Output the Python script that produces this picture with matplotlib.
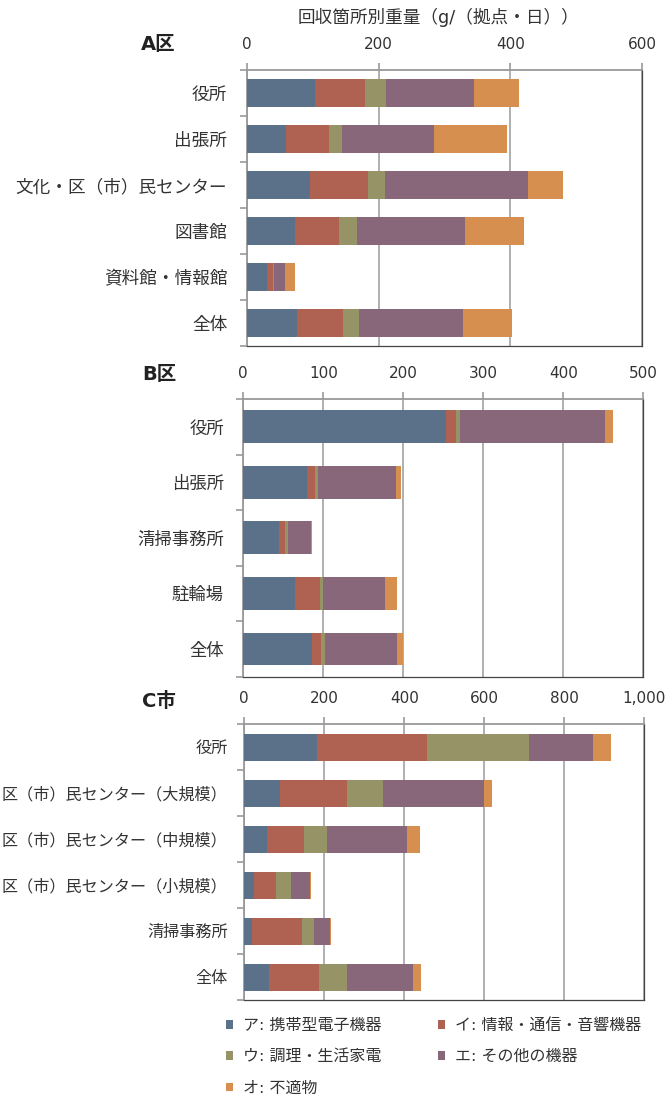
import matplotlib
matplotlib.use('Agg')
import matplotlib.pyplot as plt
from matplotlib.ticker import FixedLocator, StrMethodFormatter
import numpy as np

plt.rcParams['font.family'] = ['DejaVu Sans', 'Noto Sans CJK JP']

series = ['ア: 携帯型電子機器', 'イ: 情報・通信・音響機器', 'ウ: 調理・生活家電',
          'エ: その他の機器', 'オ: 不適物']
colors = ['#5b7089', '#af6252', '#969467', '#876779', '#d78f50']

# A区
a_labels = ['役所', '出張所', '文化・区（市）民センター', '図書館', '資料館・情報館', '全体']
a_vals = [
    [104, 59, 96, 73, 31, 77],       # ア
    [76, 66, 88, 67, 9, 69],         # イ
    [32, 20, 26, 27, 1, 24],         # ウ
    [133, 139, 216, 164, 17, 158],   # エ
    [68, 111, 53, 89, 15, 74],       # オ
]
a_ticks = [0, 200, 400, 600]

# B区
b_labels = ['役所', '出張所', '清掃事務所', '駐輪場', '全体']
b_vals = [
    [253, 80, 44.6, 65, 86],
    [12.5, 9.6, 7.5, 30.4, 11],
    [5, 3.3, 3.7, 3.8, 5],
    [181, 97.5, 28.4, 77.4, 90],
    [10, 6.3, 1.6, 15, 7.6],
]
b_ticks = [0, 100, 200, 300, 400, 500]

# C市
c_labels = ['役所', '区（市）民センター（大規模）', '区（市）民センター（中規模）',
            '区（市）民センター（小規模）', '清掃事務所', '全体']
c_vals = [
    [182, 89, 57, 24, 19, 62],
    [275, 167.5, 92.5, 55, 125, 125],
    [255, 90, 57.5, 37.5, 30, 70],
    [160, 252.5, 200, 47.5, 40, 165],
    [45, 20, 32.5, 2.5, 2.5, 20],
]
c_ticks = [0, 200, 400, 600, 800, 1000]

W, H = 670, 1095
fig = plt.figure(figsize=(W / 100, H / 100), dpi=100)


def panel(rect, labels, vals, ticks, title, title_y, lab_size, lab_pad, bar_h):
    ax = fig.add_axes(rect)
    n = len(labels)
    y = np.arange(n)
    left = np.zeros(n)
    bars = []
    for k, v in enumerate(vals):
        v = np.array(v, dtype=float)
        b = ax.barh(y, v, left=left, height=bar_h, color=colors[k], zorder=3)
        bars.append(b)
        left += v
    ax.set_ylim(n - 0.5, -0.5)
    ax.set_xlim(ticks[0], ticks[-1])
    ax.xaxis.tick_top()
    ax.set_xticks(ticks)
    ax.xaxis.set_major_formatter(StrMethodFormatter('{x:,.0f}'))
    ax.tick_params(axis='x', direction='out', length=5, width=1.2, color='#999999',
                   pad=8, labelsize=11, labelcolor='#333333')
    ax.set_yticks(y)
    ax.set_yticklabels(labels)
    ax.yaxis.set_minor_locator(FixedLocator(np.arange(n + 1) - 0.5))
    ax.tick_params(axis='y', which='major', length=0, pad=lab_pad, labelsize=lab_size,
                   labelcolor='#333333')
    ax.tick_params(axis='y', which='minor', direction='out', length=5, width=1.2,
                   color='#999999')
    ax.grid(axis='x', color='#9a9a9e', linewidth=1.1, zorder=0)
    for s in ['top', 'left']:
        ax.spines[s].set_color('#999999')
        ax.spines[s].set_linewidth(1.3)
    for s in ['right', 'bottom']:
        ax.spines[s].set_color('#444444')
        ax.spines[s].set_linewidth(0.9)
    fig.text(176 / W, 1 - title_y / H, title, ha='right', va='center',
             fontsize=14, fontweight='bold', color='#222222')
    return bars


def rect(x0, x1, y0, y1):
    return [x0 / W, 1 - y1 / H, (x1 - x0) / W, (y1 - y0) / H]


bars = panel(rect(246.7, 642.3, 70, 346), a_labels, a_vals, a_ticks, 'A区', 44, 12.7, 14, 0.6)
panel(rect(243.3, 643.3, 399, 676.7), b_labels, b_vals, b_ticks, 'B区', 374.5, 12.5, 14, 0.59)
panel(rect(244.3, 644.3, 724.3, 1000.3), c_labels, c_vals, c_ticks, 'C市', 701.5, 11.6, 12, 0.58)

fig.text(438 / W, 1 - 17 / H, '回収箇所別重量（g/（拠点・日））', ha='center', va='center',
         fontsize=12.7, color='#333333')

order = [0, 2, 4, 1, 3]
fig.legend([bars[i] for i in order], [series[i] for i in order],
           loc='upper left', bbox_to_anchor=(226 / W, 1 - 1018 / H), ncol=2,
           frameon=False, fontsize=11.5, handlelength=0.45, handleheight=0.45,
           handletextpad=0.6, columnspacing=3.55, labelspacing=1.02, borderpad=0,
           borderaxespad=0, labelcolor='#333333')

fig.savefig('out.png', dpi=100)
